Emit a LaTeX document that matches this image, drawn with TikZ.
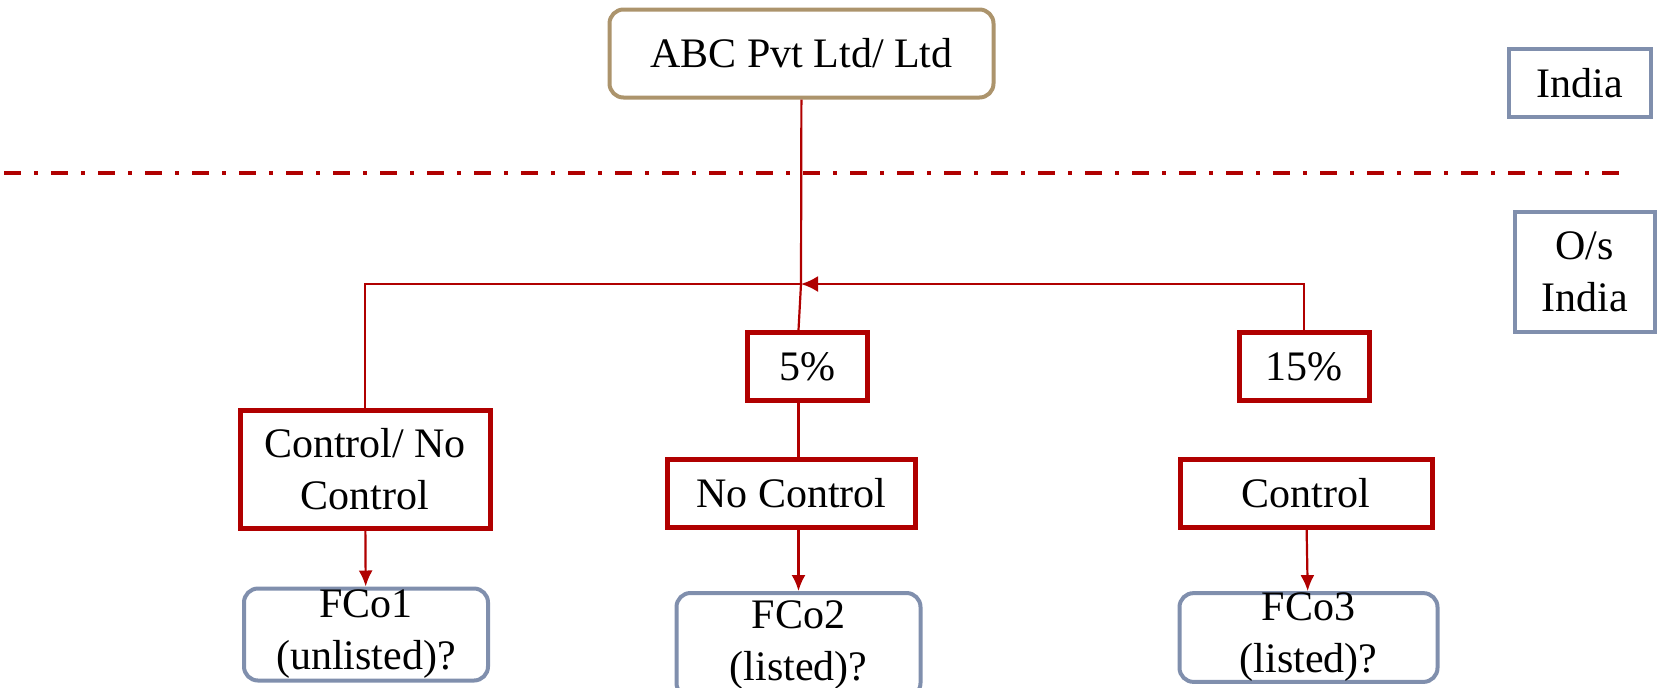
\documentclass[tikz,border=0pt]{standalone}
\usepackage{fontspec}
\setmainfont{Liberation Serif}
\usetikzlibrary{arrows.meta}
\definecolor{darkred}{RGB}{176,0,0}
\definecolor{abctan}{RGB}{172,148,108}
\definecolor{slate}{RGB}{128,143,173}
\begin{document}
\begin{tikzpicture}[x=0.5pt, y=-0.5pt,
    every node/.style={font=\fontsize{21}{26}\selectfont, align=center, inner sep=0pt},
    topbox/.style={draw=abctan, line width=2pt, rounded corners=7pt},
    regionbox/.style={draw=slate, line width=2pt},
    redbox/.style={draw=darkred, line width=2.5pt},
    cobox/.style={draw=slate, line width=2pt, rounded corners=7pt},
    link/.style={darkred, line width=1.1pt},
    down/.style={link, -{Latex[length=8pt,width=7pt]}},
    hubarrow/.style={link, -{Latex[length=8.5pt,width=8pt]}}]
    \useasboundingbox (0,0) rectangle (1659,687);

    % 1. Company in India and the regions
    \node[topbox, minimum width=192pt, minimum height=44pt] (abc) at (801.5,53.5) {ABC Pvt Ltd/ Ltd};
    \node[regionbox, minimum width=71pt, minimum height=34pt] (india) at (1580,83) {India};
    \node[regionbox, minimum width=70pt, minimum height=60pt] (osindia) at (1584.5,272) {O/s\\India};

    % 2. Border line
    \draw[darkred, line width=1.75pt, dash pattern=on 8.5pt off 6.5pt on 2pt off 6.5pt]
        (4,173) -- (1624,173);

    % 3. Holdings and control
    \node[redbox, minimum width=125pt, minimum height=59pt] (ctrlno) at (365,469.5) {Control/ No\\Control};
    \node[redbox, minimum width=60pt, minimum height=34pt] (pfive) at (807,366.5) {5\%};
    \node[redbox, minimum width=65pt, minimum height=34pt] (pfifteen) at (1304,366.5) {15\%};
    \node[redbox, minimum width=124pt, minimum height=34pt] (nocontrol) at (791.5,493) {No Control};
    \node[redbox, minimum width=126pt, minimum height=34pt] (control) at (1306,493) {Control};

    % 4. Foreign companies
    \node[cobox, minimum width=122pt, minimum height=46pt] (fcoone) at (366,634.5) {FCo1\\(unlisted)?};
    \node[cobox, minimum width=122pt, minimum height=52pt] (fcotwo) at (798.5,645) {FCo2\\(listed)?};
    \node[cobox, minimum width=129pt, minimum height=44pt] (fcothree) at (1308.5,637.5) {FCo3\\(listed)?};

    % 5. Connectors
    \coordinate (hub) at (801,284);
    \draw[link] (abc) -- (hub);
    \draw[link] (ctrlno) |- (hub);
    \draw[hubarrow] (pfifteen) |- (hub);
    \draw[link] (pfive.north -| fcotwo.north) -- (hub);
    \draw[link] (nocontrol.north -| fcotwo.north) -- (pfive.south -| fcotwo.north);
    \draw[down] (ctrlno) -- (fcoone);
    \draw[down] (nocontrol.south -| fcotwo.north) -- (fcotwo);
    \draw[down] (control) -- (fcothree);
\end{tikzpicture}
\end{document}
